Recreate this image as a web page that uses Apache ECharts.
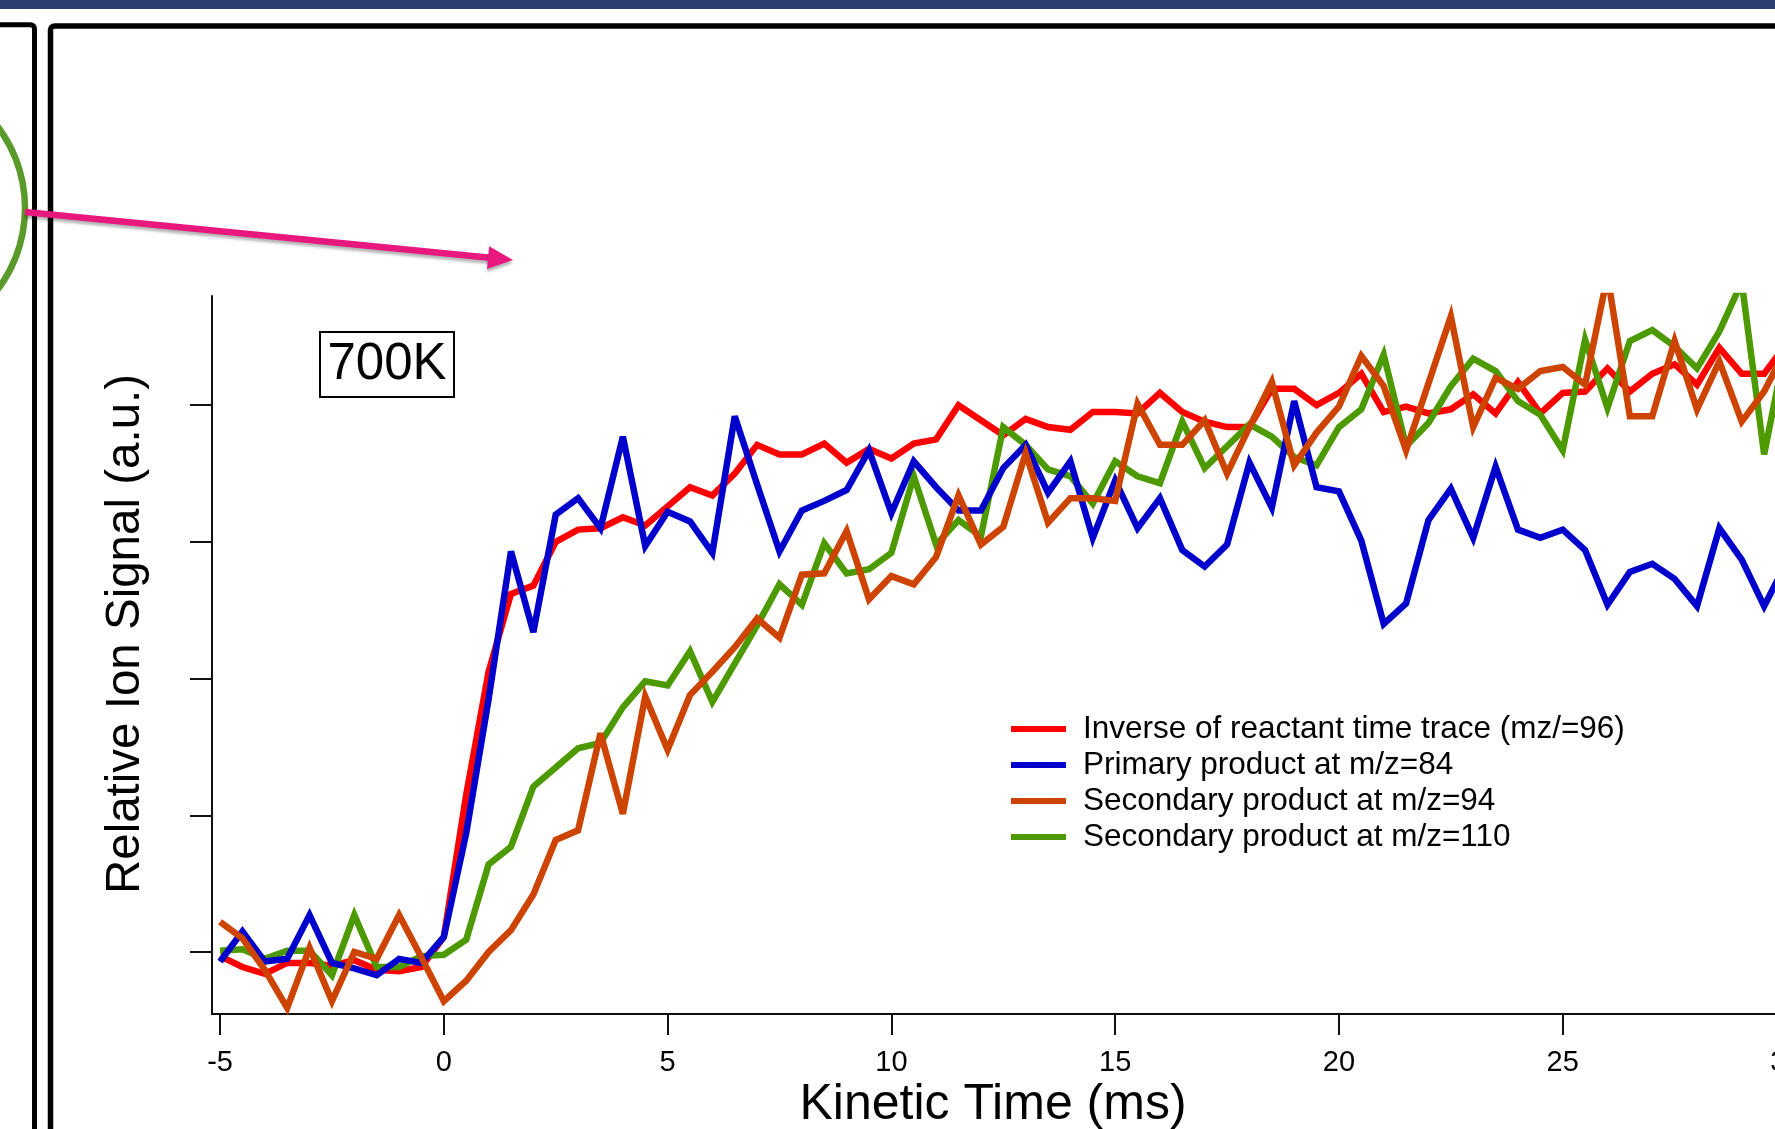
<!DOCTYPE html>
<html>
<head>
<meta charset="utf-8">
<title>700K kinetic traces</title>
<script src="https://cdn.jsdelivr.net/npm/echarts@6/dist/echarts.min.js"></script>
<style>
  html, body { margin: 0; padding: 0; background: #fff; }
  #chart { width: 1775px; height: 1129px; }
</style>
</head>
<body>
<div id="chart"></div>
<script>
// kinetic time (ms), one sample every 0.5 ms
const times = [-5, -4.5, -4, -3.5, -3, -2.5, -2, -1.5, -1, -0.5,
  0, 0.5, 1, 1.5, 2, 2.5, 3, 3.5, 4, 4.5,
  5, 5.5, 6, 6.5, 7, 7.5, 8, 8.5, 9, 9.5,
  10, 10.5, 11, 11.5, 12, 12.5, 13, 13.5, 14, 14.5,
  15, 15.5, 16, 16.5, 17, 17.5, 18, 18.5, 19, 19.5,
  20, 20.5, 21, 21.5, 22, 22.5, 23, 23.5, 24, 24.5,
  25, 25.5, 26, 26.5, 27, 27.5, 28, 28.5, 29, 29.5,
  30];

// relative ion signal (one y tick = 1 unit)
const reactantInverse = [-0.03, -0.11, -0.16, -0.08, -0.08, -0.10, -0.06, -0.13, -0.14, -0.11,
  0.11, 1.15, 2.05, 2.62, 2.68, 3.00, 3.09, 3.10, 3.18, 3.12,
  3.26, 3.40, 3.34, 3.50, 3.71, 3.64, 3.64, 3.72, 3.58, 3.68,
  3.61, 3.72, 3.75, 4.00, 3.89, 3.78, 3.90, 3.84, 3.82, 3.95,
  3.95, 3.94, 4.09, 3.95, 3.88, 3.84, 3.84, 4.12, 4.12, 4.00,
  4.09, 4.23, 3.95, 3.99, 3.94, 3.97, 4.08, 3.94, 4.17, 3.94,
  4.09, 4.10, 4.27, 4.10, 4.23, 4.30, 4.15, 4.42, 4.23, 4.23,
  4.45];

const primary84 = [-0.07, 0.15, -0.07, -0.05, 0.27, -0.08, -0.12, -0.17, -0.05, -0.08,
  0.11, 0.87, 1.85, 2.93, 2.34, 3.20, 3.32, 3.10, 3.77, 2.97,
  3.22, 3.15, 2.92, 3.92, 3.42, 2.93, 3.23, 3.30, 3.38, 3.67,
  3.21, 3.59, 3.40, 3.23, 3.23, 3.54, 3.71, 3.36, 3.59, 3.03,
  3.45, 3.10, 3.32, 2.94, 2.82, 2.98, 3.58, 3.25, 4.03, 3.40,
  3.37, 3.01, 2.40, 2.55, 3.16, 3.39, 3.03, 3.55, 3.09, 3.03,
  3.09, 2.94, 2.54, 2.78, 2.84, 2.73, 2.53, 3.10, 2.87, 2.53,
  2.85];

const secondary94 = [0.22, 0.10, -0.13, -0.41, 0.03, -0.36, 0.00, -0.05, 0.27, -0.04,
  -0.36, -0.21, 0.00, 0.16, 0.42, 0.82, 0.89, 1.60, 1.01, 1.87,
  1.48, 1.88, 2.05, 2.23, 2.44, 2.30, 2.76, 2.77, 3.08, 2.58,
  2.75, 2.69, 2.89, 3.34, 2.98, 3.11, 3.65, 3.14, 3.32, 3.32,
  3.30, 4.01, 3.71, 3.71, 3.89, 3.50, 3.84, 4.17, 3.56, 3.80,
  3.99, 4.36, 4.14, 3.67, 4.16, 4.65, 3.84, 4.20, 4.12, 4.25,
  4.28, 4.15, 4.95, 3.92, 3.92, 4.47, 3.97, 4.32, 3.88, 4.10,
  4.42];

const secondary110 = [0.01, 0.02, -0.05, 0.01, 0.01, -0.17, 0.27, -0.11, -0.11, -0.03,
  -0.02, 0.09, 0.64, 0.77, 1.21, 1.35, 1.49, 1.53, 1.79, 1.98,
  1.95, 2.20, 1.83, 2.11, 2.39, 2.69, 2.54, 2.99, 2.77, 2.80,
  2.92, 3.48, 2.98, 3.16, 3.04, 3.84, 3.71, 3.53, 3.48, 3.28,
  3.59, 3.48, 3.43, 3.88, 3.54, 3.70, 3.86, 3.77, 3.62, 3.56,
  3.84, 3.97, 4.37, 3.70, 3.87, 4.14, 4.34, 4.25, 4.03, 3.93,
  3.67, 4.48, 3.98, 4.47, 4.55, 4.43, 4.27, 4.54, 4.90, 3.64,
  4.46];

const seriesNames = [
  'Inverse of reactant time trace (mz/=96)',
  'Primary product at m/z=84',
  'Secondary product at m/z=94',
  'Secondary product at m/z=110'
];
const seriesColors = ['#ff0000', '#0000cc', '#cc4400', '#4c9900'];
const xTickValues = [-5, 0, 5, 10, 15, 20, 25, 30];
const yTickValues = [0, 1, 2, 3, 4];

const FONT = '"Liberation Sans", Arial, sans-serif';

const pairs = (vals) => times.map((t, i) => [t, vals[i]]);

const makeLine = (name, vals, color, z) => ({
  name,
  type: 'line',
  data: pairs(vals),
  showSymbol: false,
  symbol: 'none',
  color,
  itemStyle: { color },
  lineStyle: { color, width: 6.5, join: 'miter', miterLimit: 4 },
  z,
  clip: true,
  silent: true
});

const chart = echarts.init(document.getElementById('chart'), null, { renderer: 'canvas' });

const option = {
  backgroundColor: '#ffffff',
  animation: false,
  grid: {
    left: 212,
    top: 296,
    right: -11.5,
    bottom: 115,
    containLabel: false,
    outerBoundsMode: 'none'
  },
  xAxis: {
    type: 'value',
    min: -5.18,
    max: 30,
    splitLine: { show: false },
    axisLine: { onZero: false, lineStyle: { color: '#111', width: 2 } },
    axisTick: { customValues: xTickValues, length: 21, lineStyle: { color: '#111', width: 2 } },
    axisLabel: {
      customValues: xTickValues,
      fontSize: 29,
      fontFamily: FONT,
      color: '#000',
      margin: 34
    }
  },
  yAxis: {
    type: 'value',
    min: -0.4535,
    max: 4.799,
    splitLine: { show: false },
    axisLine: { show: true, onZero: false, lineStyle: { color: '#111', width: 2 } },
    axisTick: { show: true, customValues: yTickValues, length: 22, lineStyle: { color: '#111', width: 2 } },
    axisLabel: { show: false }
  },
  legend: {
    orient: 'vertical',
    left: 1011,
    top: 711,
    padding: 0,
    itemGap: 0,
    itemWidth: 55,
    itemHeight: 6,
    icon: 'rect',
    selectedMode: false,
    data: seriesNames,
    textStyle: {
      fontSize: 31.5,
      fontFamily: FONT,
      color: '#000',
      lineHeight: 36,
      padding: [0, 0, 0, 12]
    }
  },
  graphic: [
    // slide decorations around the figure
    { type: 'rect', shape: { x: 0, y: 0, width: 1775, height: 9 }, style: { fill: '#2c3f70' }, silent: true },
    { type: 'rect', shape: { x: -30, y: 24.7, width: 64.5, height: 1200, r: 4 },
      style: { fill: 'none', stroke: '#000', lineWidth: 5 }, silent: true },
    { type: 'rect', shape: { x: 50.5, y: 26, width: 1800, height: 1200, r: 4 },
      style: { fill: 'none', stroke: '#000', lineWidth: 5.5 }, silent: true },
    { type: 'circle', shape: { cx: -110, cy: 208, r: 135 },
      style: { fill: 'none', stroke: '#5a9a2b', lineWidth: 6.5 }, silent: true },
    { type: 'line', shape: { x1: 25, y1: 212, x2: 490, y2: 257.8 },
      style: { stroke: '#e8187f', lineWidth: 6.5, shadowBlur: 3, shadowOffsetY: 3, shadowColor: 'rgba(0,0,0,0.3)' }, silent: true },
    { type: 'polygon', shape: { points: [[513, 260], [489.2, 246.2], [487.0, 269]] },
      style: { fill: '#e8187f', shadowBlur: 3, shadowOffsetY: 3, shadowColor: 'rgba(0,0,0,0.3)' }, silent: true },
    // temperature tag
    { type: 'rect', shape: { x: 320, y: 332, width: 134, height: 65 },
      style: { fill: '#fff', stroke: '#000', lineWidth: 2 }, silent: true },
    { type: 'text', x: 387, y: 365,
      style: { text: '700K', fontSize: 51, fontFamily: FONT, fill: '#000', align: 'center', verticalAlign: 'middle' }, silent: true },
    // axis titles
    { type: 'text', x: 126, y: 634, rotation: Math.PI / 2,
      style: { text: 'Relative Ion Signal (a.u.)', fontSize: 47.5, fontFamily: FONT, fill: '#000', align: 'center', verticalAlign: 'middle' }, silent: true },
    { type: 'text', x: 993, y: 1105,
      style: { text: 'Kinetic Time (ms)', fontSize: 50, fontFamily: FONT, fill: '#000', align: 'center', verticalAlign: 'middle' }, silent: true }
  ],
  series: [
    makeLine(seriesNames[0], reactantInverse, seriesColors[0], 2),
    makeLine(seriesNames[3], secondary110, seriesColors[3], 3),
    makeLine(seriesNames[1], primary84, seriesColors[1], 4),
    makeLine(seriesNames[2], secondary94, seriesColors[2], 5)
  ]
};

chart.setOption(option);
</script>
</body>
</html>
